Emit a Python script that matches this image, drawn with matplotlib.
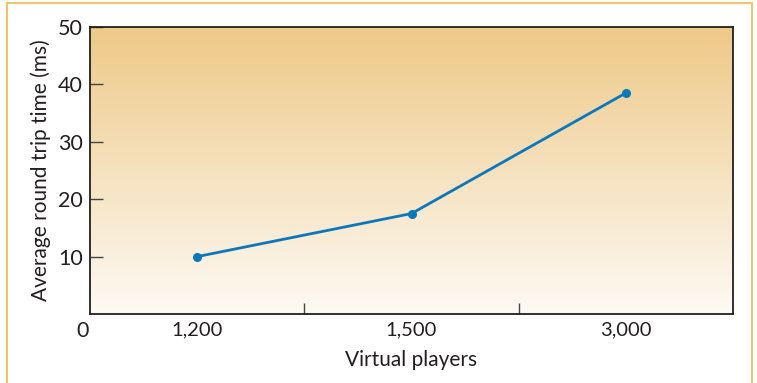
import numpy as np
import matplotlib.pyplot as plt
from matplotlib.patches import Rectangle

plt.rcParams['font.family'] = ['Lato', 'DejaVu Sans']

# data
players = ['1,200', '1,500', '3,000']
rtt_ms = [10, 17.5, 38.5]
y_ticks = [10, 20, 30, 40, 50]

W, H = 757, 383
fig = plt.figure(figsize=(W / 100, H / 100), dpi=100)
fig.patch.set_facecolor('white')

# outer orange frame
fig.patches.append(Rectangle((7 / W, -0.05), (752 - 7) / W, 1.05 - 3 / H,
                             transform=fig.transFigure, fill=False,
                             edgecolor='#f0c468', linewidth=1.5))

ax = fig.add_axes([90 / W, 1 - 314 / H, (733 - 90) / W, (314 - 27) / H])

# vertical gradient background
top = np.array([0xee, 0xc9, 0x88]) / 255
bot = np.array([0xfd, 0xfa, 0xf4]) / 255
t = np.linspace(0, 1, 256)[:, None]
grad = (top * (1 - t) + bot * t)[:, None, :]
ax.imshow(grad, extent=[0, 3, 0, 50], aspect='auto', origin='upper', zorder=0)

x = np.arange(len(players)) + 0.5
ax.plot(x, rtt_ms, color='#0b78be', linewidth=2, marker='o', markersize=5.5, zorder=3)

ax.set_xlim(0, 3)
ax.set_ylim(0, 50)

ax.set_xticks([1, 2])
ax.set_xticklabels([])
ax.set_xticks(x, minor=True)
ax.set_xticklabels(players, minor=True)
ax.tick_params(axis='x', which='minor', length=0, pad=5, labelsize=14.5, colors='#231f20')
ax.tick_params(axis='x', which='major', direction='in', length=8, width=1, color='#444444')

ax.set_yticks(y_ticks)
ax.tick_params(axis='y', direction='in', length=9, width=1, color='#444444',
               labelsize=15.5, labelcolor='#231f20', pad=5)

ax.text(-0.011, -0.058, '0', transform=ax.transAxes, ha='center', va='center',
        fontsize=15.5, color='#231f20')

for s in ax.spines.values():
    s.set_color('#231f20')
    s.set_linewidth(1.3)

ax.set_xlabel('Virtual players', fontsize=15, color='#231f20', labelpad=9)
ax.set_ylabel('Average round trip time (ms)', fontsize=15, color='#231f20', labelpad=5)

fig.savefig('out.png', dpi=100)
